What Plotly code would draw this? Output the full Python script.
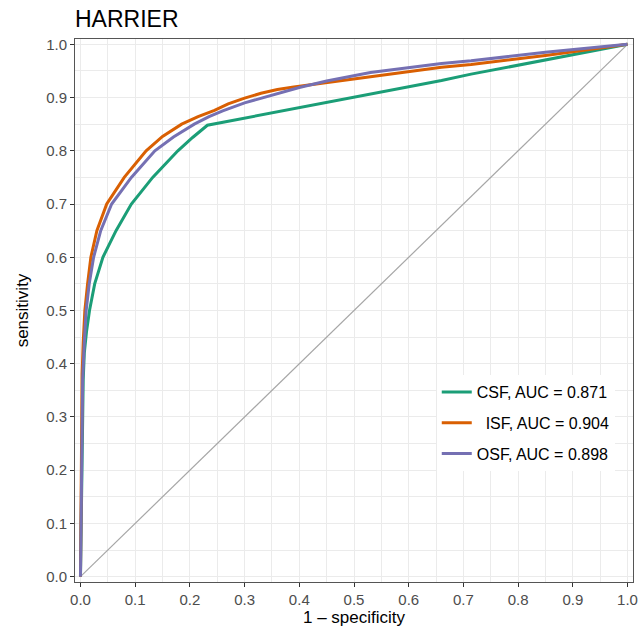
import plotly.graph_objects as go

# ---- data ----
csf_fpr = [0, 0.001, 0.002, 0.003, 0.005, 0.007, 0.011, 0.0165, 0.026, 0.041, 0.065, 0.093,
           0.132, 0.178, 0.205, 0.232, 0.35, 0.5, 0.66, 0.714, 0.85, 1.0]
csf_tpr = [0, 0.1, 0.2, 0.3, 0.37, 0.42, 0.46, 0.5, 0.55, 0.6, 0.65, 0.7,
           0.75, 0.8, 0.825, 0.848, 0.871, 0.901, 0.932, 0.944, 0.971, 1.0]

isf_fpr = [0, 0.001, 0.002, 0.003, 0.005, 0.008, 0.013, 0.019, 0.03, 0.048, 0.08, 0.12,
           0.15, 0.185, 0.215, 0.245, 0.27, 0.30, 0.33, 0.36, 0.39, 0.42, 0.45, 0.53,
           0.66, 0.714, 0.85, 1.0]
isf_tpr = [0, 0.15, 0.3, 0.38, 0.44, 0.5, 0.55, 0.6, 0.65, 0.7, 0.75, 0.8,
           0.827, 0.85, 0.864, 0.876, 0.888, 0.899, 0.908, 0.915, 0.92, 0.924, 0.928, 0.94,
           0.957, 0.962, 0.979, 1.0]

osf_fpr = [0, 0.001, 0.002, 0.003, 0.004, 0.007, 0.0104, 0.016, 0.024, 0.037, 0.057, 0.093,
           0.136, 0.17, 0.208, 0.235, 0.26, 0.30, 0.35, 0.40, 0.45, 0.53, 0.66, 0.714,
           0.85, 1.0]
osf_tpr = [0, 0.1, 0.2, 0.3, 0.37, 0.44, 0.5, 0.55, 0.6, 0.65, 0.7, 0.75,
           0.8, 0.826, 0.85, 0.864, 0.875, 0.89, 0.905, 0.919, 0.931, 0.947, 0.964, 0.969,
           0.985, 1.0]

chance = [0, 1]

series_names = ["CSF, AUC = 0.871", "\u00a0\u00a0ISF, AUC = 0.904", "OSF, AUC = 0.898"]
series_colors = ["#1B9E77", "#D95F02", "#7570B3"]

tick_vals = [0, 0.1, 0.2, 0.3, 0.4, 0.5, 0.6, 0.7, 0.8, 0.9, 1.0]
tick_text = ["0.0", "0.1", "0.2", "0.3", "0.4", "0.5", "0.6", "0.7", "0.8", "0.9", "1.0"]

FONT = "Liberation Sans, Arial, Helvetica, sans-serif"

fig = go.Figure()
fig.add_trace(go.Scatter(x=chance, y=chance, mode="lines",
                         line=dict(color="#A6A6A6", width=1.2), showlegend=False,
                         hoverinfo="skip"))

for i, (fx, ty) in enumerate([(csf_fpr, csf_tpr), (isf_fpr, isf_tpr), (osf_fpr, osf_tpr)]):
    fig.add_trace(go.Scatter(x=fx, y=ty, mode="lines", name=series_names[i],
                             legendgroup="g%d" % i,
                             line=dict(color=series_colors[i], width=3)))

axis_common = dict(
    range=[-0.01, 1.01],
    tickvals=tick_vals, ticktext=tick_text,
    ticks="outside", ticklen=4, tickwidth=1, tickcolor="#333333",
    tickfont=dict(family=FONT, size=15, color="#4D4D4D"),
    showgrid=True, gridcolor="#EBEBEB", gridwidth=1.1,
    minor=dict(dtick=0.05, tick0=0, showgrid=True, gridcolor="#EBEBEB", gridwidth=0.8, ticks=""),
    showline=True, linecolor="#555555", linewidth=1, mirror=True,
    zeroline=False,
)

L, R, T, B = 75, 6, 39, 46
PW, PH = 644 - L - R, 628 - T - B

fig.update_layout(
    width=644, height=628,
    margin=dict(l=L, r=R, t=T, b=B),
    paper_bgcolor="white", plot_bgcolor="white",
    font=dict(family=FONT, color="black"),
    title=dict(text="HARRIER", x=75/644, xref="container", xanchor="left",
               y=1 - 19/628, yref="container", yanchor="middle",
               font=dict(family=FONT, size=23, color="black")),
    xaxis=dict(axis_common,
               title=dict(text="1 \u2013 specificity", standoff=0,
                          font=dict(family=FONT, size=17, color="black"))),
    yaxis=dict(axis_common,
               title=dict(text="sensitivity", standoff=13,
                          font=dict(family=FONT, size=17, color="black"))),
    legend=dict(x=(440 - L) / PW, y=(T + PH - 375) / PH, xanchor="left", yanchor="top",
                bgcolor="white", borderwidth=0, tracegroupgap=7,
                font=dict(family=FONT, size=16, color="black")),
    showlegend=True,
)

fig.write_html(
    "out.html",
    config={"displayModeBar": False},
    post_script=("document.documentElement.style.margin='0px';"
                 "document.body.style.margin='0px';"
                 "document.documentElement.style.overflow='hidden';"
                 "document.body.style.overflow='hidden';"),
)
